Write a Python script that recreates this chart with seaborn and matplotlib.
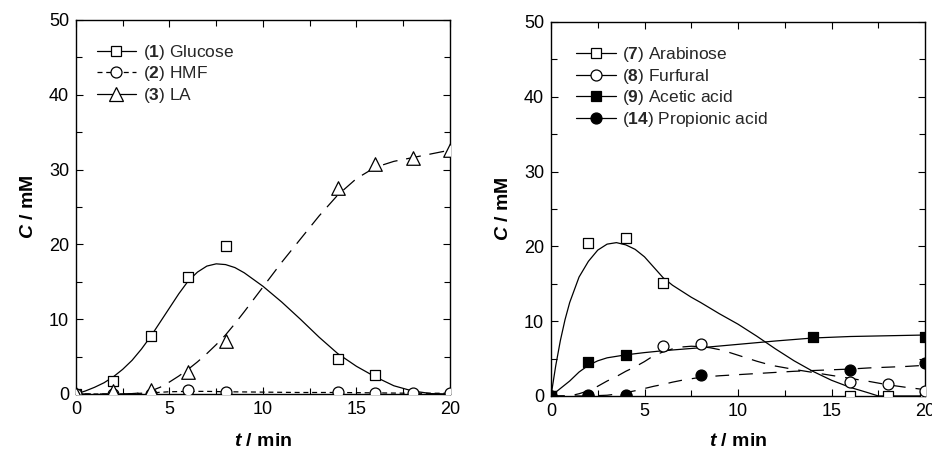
import numpy as np
import pandas as pd
import seaborn as sns
import matplotlib
matplotlib.use("Agg")
import matplotlib.pyplot as plt
from matplotlib.lines import Line2D
from matplotlib.ticker import MultipleLocator

# ---- left panel: glucose series (measured points) ----
t_pts_left = [0, 2, 4, 6, 8, 14, 16, 18, 20]
glucose_t = [0, 2, 4, 6, 8, 14, 16]
glucose_pts = [0, 1.8, 7.8, 15.7, 19.8, 4.7, 2.5]
hmf_pts = [0, 0, 0, 0.5, 0.25, 0.2, 0.15, 0.1, 0.1]
la_pts = [0, 0.4, 0.6, 2.9, 7.1, 27.6, 30.7, 31.5, 32.6]

# fitted curves
glucose_fit_t = [0, 0.5, 1, 1.5, 2, 2.5, 3, 3.5, 4, 4.5, 5, 5.5, 6, 6.5, 7, 7.5,
                 8, 8.5, 9, 10, 11, 12, 13, 14, 15, 16, 17, 18, 19, 20]
glucose_fit = [0, 0.4, 0.9, 1.5, 2.3, 3.3, 4.5, 6.0, 7.7, 9.6, 11.5, 13.4, 15.1, 16.3,
               17.1, 17.4, 17.3, 16.9, 16.2, 14.4, 12.3, 10.0, 7.6, 5.4, 3.7, 2.3, 1.1,
               0.4, 0.05, 0]
la_fit_t = [0, 1, 2, 3, 3.5, 4, 4.5, 5, 5.5, 6, 6.5, 7, 7.5, 8, 8.5, 9, 10, 11, 12,
            13, 14, 15, 16, 17, 18, 19, 20]
la_fit = [0, 0, 0, 0.05, 0.15, 0.4, 0.9, 1.6, 2.4, 3.3, 4.3, 5.4, 6.6, 7.9, 9.4, 11.0,
          14.3, 17.6, 20.7, 23.8, 26.6, 28.8, 30.3, 31.1, 31.6, 32.1, 32.6]
hmf_fit_t = [0, 2, 3, 4, 5, 6, 7, 8, 10, 12, 14, 16, 18, 20]
hmf_fit = [0, 0, 0.05, 0.15, 0.3, 0.35, 0.35, 0.3, 0.25, 0.2, 0.2, 0.15, 0.1, 0.1]

# ---- right panel ----
arab_t = [0, 2, 4, 6, 16, 18, 20]
arab_pts = [0, 20.5, 21.1, 15.1, 0, 0, 0]
furf_t = [0, 2, 4, 6, 8, 16, 18, 20]
furf_pts = [0, 0, 0, 6.7, 6.95, 1.85, 1.55, 0.6]
acet_t = [0, 2, 4, 14, 20]
acet_pts = [0, 4.6, 5.5, 7.85, 7.95]
prop_t = [0, 2, 4, 8, 16, 20]
prop_pts = [0, 0.1, 0.1, 2.85, 3.5, 4.4]

arab_fit_t = [0, 0.25, 0.5, 0.75, 1, 1.5, 2, 2.5, 3, 3.5, 4, 4.5, 5, 5.5, 6, 6.5, 7,
              7.5, 8, 9, 10, 11, 12, 13, 14, 15, 16, 17, 17.5, 18, 20]
arab_fit = [0, 4.0, 7.4, 10.2, 12.5, 15.9, 18.0, 19.5, 20.3, 20.5, 20.2, 19.6, 18.6,
            17.2, 15.8, 14.8, 14.0, 13.2, 12.5, 11.0, 9.6, 8.0, 6.3, 4.7, 3.3, 2.1,
            1.15, 0.4, 0, 0, 0]
acet_fit_t = [0, 0.5, 1, 1.5, 2, 2.5, 3, 4, 5, 6, 8, 10, 12, 14, 16, 18, 20]
acet_fit = [0, 1.0, 2.0, 3.2, 4.1, 4.7, 5.1, 5.5, 5.8, 6.05, 6.45, 6.9, 7.35, 7.75,
            7.95, 8.05, 8.15]
furf_fit_t = [0, 1, 1.5, 2, 2.5, 3, 3.5, 4, 4.5, 5, 5.5, 6, 6.5, 7, 7.5, 8, 8.5, 9,
              9.5, 10, 10.5, 11, 11.5, 12, 13, 14, 15, 16, 17, 18, 19, 20]
furf_fit = [0, 0, 0.3, 0.7, 1.3, 2.0, 2.6, 3.3, 3.9, 4.6, 5.4, 5.9, 6.3, 6.55, 6.65,
            6.6, 6.45, 6.2, 5.85, 5.45, 5.05, 4.65, 4.3, 4.0, 3.55, 3.15, 2.75, 2.35,
            1.95, 1.5, 1.15, 0.85]
prop_fit_t = [0, 2, 3, 3.5, 4, 4.5, 5, 5.5, 6, 6.5, 7, 7.5, 8, 9, 10, 11, 12, 13, 14,
              15, 16, 17, 18, 19, 20]
prop_fit = [0, 0, 0.1, 0.25, 0.45, 0.7, 1.0, 1.3, 1.55, 1.85, 2.1, 2.3, 2.5, 2.7,
            2.85, 3.0, 3.15, 3.3, 3.4, 3.5, 3.6, 3.75, 3.85, 3.95, 4.1]

left_labels = [r"($\mathbf{1}$) Glucose", r"($\mathbf{2}$) HMF", r"($\mathbf{3}$) LA"]
right_labels = [r"($\mathbf{7}$) Arabinose", r"($\mathbf{8}$) Furfural",
                r"($\mathbf{9}$) Acetic acid", r"($\mathbf{14}$) Propionic acid"]

sns.set_theme(style="ticks")
plt.rcParams["font.family"] = ["Liberation Sans", "DejaVu Sans"]
plt.rcParams["mathtext.fontset"] = "custom"
plt.rcParams["mathtext.rm"] = "Liberation Sans"
plt.rcParams["mathtext.it"] = "Liberation Sans:italic"
plt.rcParams["mathtext.bf"] = "Liberation Sans:bold"
plt.rcParams["mathtext.bfit"] = "Liberation Sans:italic:bold"

LW = 0.9
LONG_DASH = (0, (12, 7))
SHORT_DASH = (0, (4, 3))
R_DASH = (0, (11, 8))

fig = plt.figure(figsize=(9.32, 4.51), dpi=100)
ax1 = fig.add_axes([0.0815, 0.1264, 0.4013, 0.8293])
ax2 = fig.add_axes([0.5912, 0.1220, 0.4013, 0.8293])


def fit_line(ax, t, c, ls):
    sns.lineplot(x=t, y=c, ax=ax, color="black", lw=LW, linestyle=ls,
                 estimator=None, sort=False, zorder=2)


def points(ax, t, c, marker, s, fill):
    sns.scatterplot(x=t, y=c, ax=ax, marker=marker, s=s, color=fill,
                    edgecolor="black", linewidth=0.9, zorder=3)


# left panel
fit_line(ax1, glucose_fit_t, glucose_fit, "-")
fit_line(ax1, hmf_fit_t, hmf_fit, SHORT_DASH)
fit_line(ax1, la_fit_t, la_fit, LONG_DASH)
points(ax1, glucose_t, glucose_pts, "s", 60, "white")
points(ax1, t_pts_left, hmf_pts, "o", 62, "white")
points(ax1, t_pts_left, la_pts, "^", 95, "white")

# right panel
fit_line(ax2, arab_fit_t, arab_fit, "-")
fit_line(ax2, acet_fit_t, acet_fit, "-")
fit_line(ax2, furf_fit_t, furf_fit, R_DASH)
fit_line(ax2, prop_fit_t, prop_fit, R_DASH)
points(ax2, arab_t, arab_pts, "s", 60, "white")
points(ax2, furf_t, furf_pts, "o", 62, "white")
points(ax2, acet_t, acet_pts, "s", 60, "black")
points(ax2, prop_t, prop_pts, "o", 62, "black")

for ax in (ax1, ax2):
    ax.set_xlim(0, 20)
    ax.set_ylim(0, 50)
    ax.xaxis.set_major_locator(MultipleLocator(5))
    ax.xaxis.set_minor_locator(MultipleLocator(2.5))
    ax.yaxis.set_major_locator(MultipleLocator(10))
    ax.yaxis.set_minor_locator(MultipleLocator(5))
    ax.tick_params(which="both", direction="in", top=True, right=True,
                   color="black", width=0.8, labelsize=13, labelcolor="black")
    ax.tick_params(which="major", length=5, pad=5)
    ax.tick_params(which="minor", length=4)
    for sp in ax.spines.values():
        sp.set_visible(True)
        sp.set_color("black")
        sp.set_linewidth(1.0)
    ax.set_xlabel(r"$\mathbfit{t}$ / min", fontsize=14, fontweight="bold", color="black")
    ax.set_ylabel(r"$\mathbfit{C}$ / mM", fontsize=14, fontweight="bold", color="black")
    ax.yaxis.set_label_coords(-0.104, 0.5)

ax1.xaxis.set_label_coords(0.5, -0.104)
ax2.xaxis.set_label_coords(0.5, -0.099)

# legends
def handle(ls, marker, ms, fill):
    return Line2D([], [], color="black", lw=LW, linestyle=ls, marker=marker,
                  markersize=ms, markerfacecolor=fill, markeredgecolor="black",
                  markeredgewidth=0.9)

h_left = [handle("-", "s", 7.7, "white"), handle(SHORT_DASH, "o", 7.9, "white"),
          handle("-", "^", 10, "white")]
h_right = [handle("-", "s", 7.7, "white"), handle("-", "o", 7.9, "white"),
           handle("-", "s", 7.7, "black"), handle("-", "o", 7.9, "black")]

leg_kw = dict(loc="upper left", frameon=False, fontsize=12.5, handlelength=2.3,
              handletextpad=0.35, labelspacing=0.15, borderpad=0, borderaxespad=0)
ax1.legend(h_left, left_labels, bbox_to_anchor=(0.055, 0.939), **leg_kw)
ax2.legend(h_right, right_labels, bbox_to_anchor=(0.067, 0.938), **leg_kw)

fig.savefig("out.png", dpi=100)
